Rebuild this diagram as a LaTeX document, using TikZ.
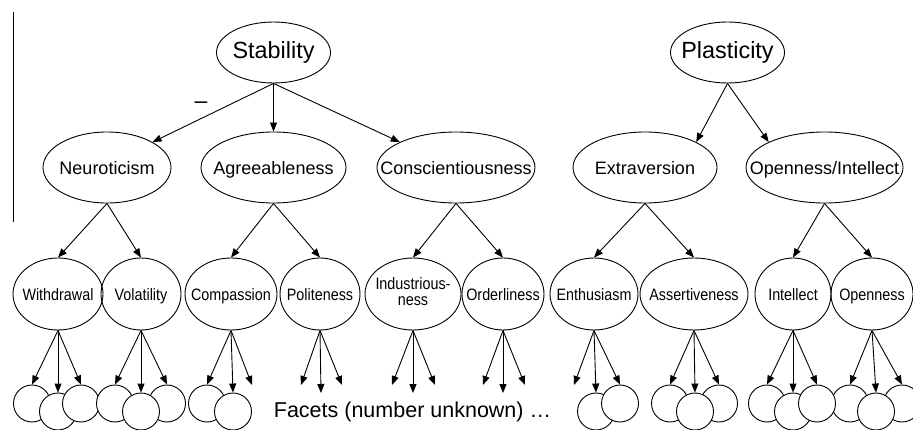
\documentclass[tikz,border=0pt]{standalone}
\usepackage{fontspec}
\setmainfont{Liberation Sans}
\newfontfamily\narrowfont[FakeStretch=0.87]{Liberation Sans}
\usetikzlibrary{arrows.meta,shapes.geometric}
\newcommand{\zwbox}[1]{\makebox[0pt][c]{#1}}
\newcommand{\zwtxt}[1]{\makebox[0pt][c]{\raisebox{0pt}[0.73em][0pt]{#1}}}
\begin{document}
\begin{tikzpicture}[x=1pt,y=-1pt,line width=0.9pt,
  arr/.style={-{Triangle[length=9pt,width=7pt]}},
  topell/.style={ellipse,draw,inner sep=0,minimum width=114,minimum height=61,
    font=\fontsize{23.4}{26}\selectfont},
  midell/.style={ellipse,draw,inner sep=0,minimum height=71,
    font=\fontsize{18}{20}\selectfont},
  lowell/.style={ellipse,draw,inner sep=0,minimum height=72,
    font=\narrowfont\fontsize{16.5}{17}\selectfont},
  facetc/.style={circle,draw,fill=white,inner sep=0,minimum size=37},
  lbl/.style={inner sep=0}]
\useasboundingbox (0,0) rectangle (913,430);
\begin{scope}
\clip (0,0) rectangle (913,430);
% side rule
\coordinate (vtop) at (13,12);
\coordinate (vbot) at (13,222);
\draw (vtop) -- (vbot);

% level 1
\node[topell] (stab) at (273.5,52.5) {\zwbox{Stability}};
\node[topell] (plas) at (727.5,52.5) {\zwbox{Plasticity}};
\node[lbl,font=\fontsize{23}{25}\selectfont] (minus) at (201,105) {–};

% level 2
\node[midell,minimum width=128] (neu) at (107,167.5) {\zwtxt{Neuroticism}};
\node[midell,minimum width=145] (agr) at (273.5,167.5) {\zwtxt{Agreeableness}};
\node[midell,minimum width=158] (con) at (456,167.5) {\zwtxt{Conscientiousness}};
\node[midell,minimum width=144] (ext) at (645,167.5) {\zwtxt{Extraversion}};
\node[midell,minimum width=157] (opi) at (824.5,167.5) {\zwtxt{Openness/Intellect}};

% level 3
\node[lowell,minimum width=90] (wdr) at (58,294) {\zwtxt{Withdrawal}};
\node[lowell,minimum width=80] (vol) at (141,294) {\zwtxt{Volatility}};
\node[lowell,minimum width=92] (cmp) at (231,294) {\zwtxt{Compassion}};
\node[lowell,minimum width=80] (pol) at (320,294) {\zwtxt{Politeness}};
\node[lowell,minimum width=96] (ind) at (413,294)
  {\zwbox{\begin{tabular}{@{}c@{}}Industrious-\\[-1pt]ness\end{tabular}}};
\node[lowell,minimum width=82] (ord) at (503,294) {\zwtxt{Orderliness}};
\node[lowell,minimum width=88] (ent) at (594,294) {\zwtxt{Enthusiasm}};
\node[lowell,minimum width=108] (ast) at (694,294) {\zwtxt{Assertiveness}};
\node[lowell,minimum width=76] (itl) at (793,294) {\zwtxt{Intellect}};
\node[lowell,minimum width=82] (opn) at (872,294) {\zwtxt{Openness}};

% facets (circles)
\node[facetc] (wdr1) at (32,403.5) {};
\node[facetc] (wdr2) at (58,411.5) {};
\node[facetc] (wdr3) at (81,403.5) {};
\node[facetc] (vol1) at (115,403.5) {};
\node[facetc] (vol3) at (167,403.5) {};
\node[facetc] (vol2) at (141,411.5) {};
\node[facetc] (cmp1) at (207,403.5) {};
\node[facetc] (cmp2) at (233,411.5) {};
\coordinate (cmp3) at (252,385);
\coordinate (pol1) at (301,385);
\coordinate (pol2) at (321,393);
\coordinate (pol3) at (342,385);
\coordinate (ind1) at (392,385);
\coordinate (ind2) at (413,393);
\coordinate (ind3) at (435,385);
\coordinate (ord1) at (483,385);
\coordinate (ord2) at (503,393);
\coordinate (ord3) at (525,385);
\coordinate (ent1) at (574,385);
\node[facetc] (ent2) at (596,411.5) {};
\node[facetc] (ent3) at (620,403.5) {};
\node[facetc] (ast1) at (670,403.5) {};
\node[facetc] (ast3) at (719,403.5) {};
\node[facetc] (ast2) at (695,411.5) {};
\node[facetc] (itl1) at (767,403.5) {};
\node[facetc] (itl2) at (793,411.5) {};
\node[facetc] (opn1) at (850,403.5) {};
\node[facetc] (itl3) at (817,403.5) {};
\node[facetc] (opn3) at (902,403.5) {};
\node[facetc] (opn2) at (876,411.5) {};

\node[lbl,anchor=base,font=\fontsize{21.5}{24}\selectfont] (facets) at (412.5,417)
  {Facets (number unknown) …};

% level 1 -> 2
\draw[arr] (stab.south) -- (neu.north east);
\draw[arr] (stab.south) -- (agr.north);
\draw[arr] (stab.south) -- (con.north west);
\draw[arr] (plas.south) -- (ext.north east);
\draw[arr] (plas.south) -- (opi.north west);

% level 2 -> 3
\draw[arr] (neu.south) -- (wdr.north);
\draw[arr] (neu.south) -- (vol.north);
\draw[arr] (agr.south) -- (cmp.north);
\draw[arr] (agr.south) -- (pol.north);
\draw[arr] (con.south) -- (ind.north);
\draw[arr] (con.south) -- (ord.north);
\draw[arr] (ext.south) -- (ent.north);
\draw[arr] (ext.south) -- (ast.north);
\draw[arr] (opi.south) -- (itl.north);
\draw[arr] (opi.south) -- (opn.north);

% level 3 -> facets (circles)
\foreach \c in {wdr1,wdr2,wdr3}{\draw[arr] (wdr.south) -- (\c.north);}
\foreach \c in {vol1,vol2,vol3}{\draw[arr] (vol.south) -- (\c.north);}
\foreach \c in {cmp1,cmp2}{\draw[arr] (cmp.south) -- (\c.north);}
\foreach \c in {ent2,ent3}{\draw[arr] (ent.south) -- (\c.north);}
\foreach \c in {ast1,ast2,ast3}{\draw[arr] (ast.south) -- (\c.north);}
\foreach \c in {itl1,itl2,itl3}{\draw[arr] (itl.south) -- (\c.north);}
\foreach \c in {opn1,opn2,opn3}{\draw[arr] (opn.south) -- (\c.north);}
% level 3 -> free facet ends
\draw[arr] (cmp.south) -- (cmp3);
\draw[arr] (ent.south) -- (ent1);
\foreach \c in {pol1,pol2,pol3}{\draw[arr] (pol.south) -- (\c);}
\foreach \c in {ind1,ind2,ind3}{\draw[arr] (ind.south) -- (\c);}
\foreach \c in {ord1,ord2,ord3}{\draw[arr] (ord.south) -- (\c);}
\end{scope}
\end{tikzpicture}
\end{document}
